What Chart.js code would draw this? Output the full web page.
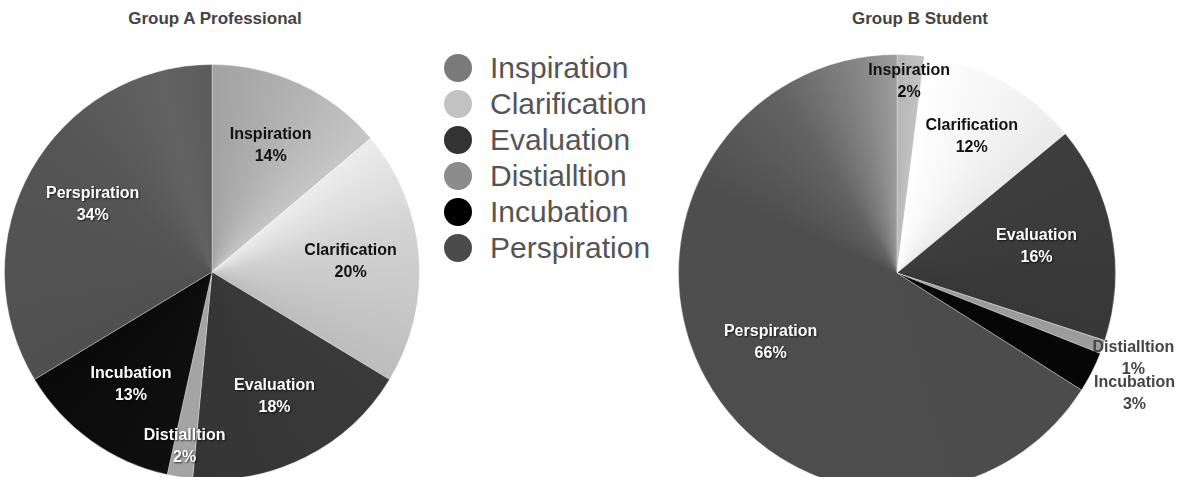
<!DOCTYPE html>
<html>
<head>
<meta charset="utf-8">
<script src="https://cdn.jsdelivr.net/npm/chart.js@4.4.1/dist/chart.umd.min.js"></script>
<style>
  html, body { margin: 0; padding: 0; background: #fff; overflow: hidden; width: 1184px; height: 477px; }
  .title { position: absolute; top: 9px; height: 20px; line-height: 20px; width: 260px; text-align: center;
           font: bold 17px "Liberation Sans", Arial, sans-serif; color: #444; }
  #titleA { left: 85px; }
  #titleB { left: 790px; }
  #chartA { position: absolute; left: 0; top: 0; }
  #chartB { position: absolute; left: 660px; top: 0; }
  #legend { position: absolute; left: 444px; top: 50px; font: 30px "Liberation Sans", Arial, sans-serif; color: #555; }
  .item { height: 36px; display: flex; align-items: center; }
  .dot { width: 28px; height: 28px; border-radius: 50%; margin-right: 18px; flex: none; }
</style>
</head>
<body>
<div class="title" id="titleA">Group A Professional</div>
<div class="title" id="titleB">Group B Student</div>
<canvas id="chartA" width="430" height="490"></canvas>
<canvas id="chartB" width="524" height="500"></canvas>
<div id="legend"></div>

<script>
const categories = ["Inspiration", "Clarification", "Evaluation", "Distialltion", "Incubation", "Perspiration"];
const groupA = [14, 20, 18, 2, 13, 34];
const groupB = [2, 12, 16, 1, 3, 66];

const legendColors = ["#7a7a7a", "#c2c2c2", "#333333", "#8c8c8c", "#000000", "#4b4b4b"];

// [offset within slice, colour] going clockwise
const shadesA = [
    [[0, "#a2a2a2"], [0.5, "#b2b2b2"], [1, "#c6c6c6"]],
    [[0, "#ececec"], [0.4, "#d2d2d2"], [1, "#bdbdbd"]],
    [[0, "#3a3a3a"], [1, "#353535"]],
    [[0, "#a4a4a4"]],
    [[0, "#0f0f0f"], [1, "#0a0a0a"]],
    [[0, "#505050"], [0.6, "#555555"], [0.88, "#626262"], [1, "#5c5c5c"]]
];
const shadesB = [
    [[0, "#b6b6b6"], [1, "#c2c2c2"]],
    [[0, "#ffffff"], [0.5, "#f6f6f6"], [1, "#eaeaea"]],
    [[0, "#3e3e3e"], [1, "#373737"]],
    [[0, "#9c9c9c"]],
    [[0, "#060606"]],
    [[0, "#4c4c4c"], [0.72, "#4e4e4e"], [0.86, "#626262"], [0.95, "#848484"], [1, "#9c9c9c"]]
];

const labelRadiusA = [0.67, 0.67, 0.67, 0.85, 0.67, 0.66];
const labelRadiusB = [0.88, 0.71, 0.65, 1.15, 1.22, 0.66];
const labelColorA = ["#111", "#111", "#fff", "#fff", "#fff", "#fff"];
const labelColorB = ["#111", "#111", "#fff", "#444", "#444", "#fff"];

// legend
const legend = document.getElementById("legend");
categories.forEach((name, i) => {
    const row = document.createElement("div");
    row.className = "item";
    row.innerHTML = `<span class="dot" style="background:${legendColors[i]}"></span><span>${name}</span>`;
    legend.appendChild(row);
});

function sliceFill(shades, values) {
    return function (c) {
        const chart = c.chart;
        const area = chart.chartArea;
        const stops = shades[c.dataIndex];
        if (!area || stops.length === 1) return stops[0][1];
        const total = values.reduce((a, b) => a + b, 0);
        let before = 0;
        for (let k = 0; k < c.dataIndex; k++) before += values[k];
        const f0 = before / total;
        const f1 = (before + values[c.dataIndex]) / total;
        const cx = (area.left + area.right) / 2;
        const cy = (area.top + area.bottom) / 2;
        const g = chart.ctx.createConicGradient(-Math.PI / 2, cx, cy);
        stops.forEach(([t, col]) => g.addColorStop(Math.min(1, f0 + (f1 - f0) * t), col));
        return g;
    };
}

const sliceLabels = {
    id: "sliceLabels",
    afterDatasetsDraw(chart, args, opts) {
        const ctx = chart.ctx;
        const meta = chart.getDatasetMeta(0);
        const values = chart.data.datasets[0].data;
        ctx.save();
        ctx.font = "bold 16px 'Liberation Sans', Arial, sans-serif";
        ctx.textAlign = "center";
        ctx.textBaseline = "middle";
        meta.data.forEach((arc, i) => {
            const mid = (arc.startAngle + arc.endAngle) / 2;
            const r = arc.outerRadius * opts.radius[i];
            const x = arc.x + Math.cos(mid) * r;
            const y = arc.y + Math.sin(mid) * r;
            const col = opts.colors[i];
            if (col === "#fff") {
                ctx.shadowColor = "rgba(0,0,0,0.7)";
                ctx.shadowBlur = 2;
                ctx.shadowOffsetX = 1;
                ctx.shadowOffsetY = 1;
            } else {
                ctx.shadowColor = "transparent";
            }
            ctx.fillStyle = col;
            ctx.fillText(chart.data.labels[i], x, y - 11);
            ctx.fillText(values[i] + "%", x, y + 11);
        });
        ctx.restore();
    }
};

function makePie(id, values, shades, padding, radius, colors) {
    return new Chart(document.getElementById(id).getContext("2d"), {
        type: "pie",
        data: {
            labels: categories,
            datasets: [{
                data: values,
                backgroundColor: sliceFill(shades, values),
                borderColor: "rgba(255,255,255,0.3)",
                borderWidth: 1
            }]
        },
        options: {
            responsive: false,
            animation: false,
            layout: { padding },
            plugins: {
                legend: { display: false },
                tooltip: { enabled: false },
                sliceLabels: { radius, colors }
            }
        },
        plugins: [sliceLabels]
    });
}

makePie("chartA", groupA, shadesA, { left: 4, top: 64, right: 10, bottom: 10 }, labelRadiusA, labelColorA);
makePie("chartB", groupB, shadesB, { left: 18, top: 54, right: 68, bottom: 8 }, labelRadiusB, labelColorB);
</script>
</body>
</html>
